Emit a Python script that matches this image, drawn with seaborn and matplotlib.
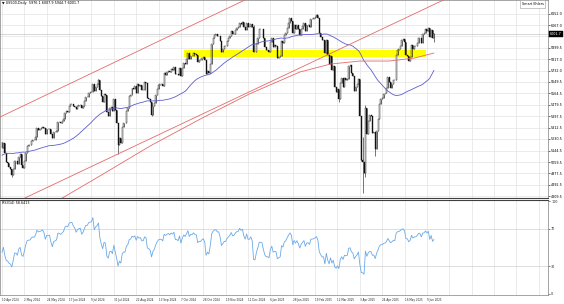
import numpy as np
import pandas as pd
import matplotlib
matplotlib.use("Agg")
import matplotlib.pyplot as plt
import matplotlib.transforms as mtrans
import seaborn as sns

sns.set_style("white")
plt.rcParams['font.family'] = ['DejaVu Sans']

# ---------------- data ----------------
symbol = "US500,Daily"
start_date = "2024-04-10"
missing_days = ["2025-04-18"]

warmup_closes = [4925, 4846, 4906, 4959,
                 4942, 4954, 4995, 4998, 5027,
                 5022, 4953, 5001, 5030, 5006,
                 5008, 4976, 4982, 5088, 5089,
                 5070, 5078, 5070, 5096, 5137,
                 5131, 5079, 5105, 5157, 5124,
                 5118, 5175, 5165, 5150, 5117,
                 5149, 5179, 5225, 5241, 5234,
                 5218, 5204, 5248, 5254, 5254,
                 5243, 5205, 5211, 5147, 5204,
                 5202, 5209]

closes = [5160, 5199, 5123,
          5061, 5051, 5022, 5011, 4967,
          5010, 5071, 5071, 5048, 5100,
          5116, 5036, 5018, 5064, 5128,
          5181, 5187, 5187, 5214, 5223,
          5221, 5247, 5308, 5297, 5303,
          5308, 5321, 5307, 5268, 5305,
          5305, 5306, 5267, 5236, 5278,
          5283, 5291, 5354, 5353, 5347,
          5361, 5375, 5421, 5434, 5431,
          5473, 5487, 5487, 5473, 5465,
          5448, 5469, 5478, 5483, 5460,
          5475, 5509, 5537, 5537, 5567,
          5572, 5577, 5633, 5584, 5615,
          5631, 5667, 5588, 5545, 5505,
          5564, 5556, 5427, 5399, 5459,
          5464, 5436, 5522, 5446, 5347,
          5186, 5240, 5199, 5319, 5344,
          5344, 5434, 5455, 5543, 5554,
          5608, 5597, 5621, 5571, 5635,
          5617, 5626, 5592, 5592, 5648,
          5640, 5528, 5520, 5503, 5408,
          5471, 5496, 5554, 5596, 5626,
          5633, 5634, 5618, 5714, 5703,
          5719, 5732, 5722, 5745, 5738,
          5762, 5709, 5709, 5700, 5751,
          5696, 5751, 5792, 5780, 5815,
          5859, 5815, 5843, 5841, 5865,
          5853, 5851, 5797, 5809, 5808,
          5823, 5832, 5813, 5705, 5729,
          5712, 5782, 5929, 5973, 5996,
          6001, 5984, 5985, 5949, 5871,
          5894, 5917, 5917, 5949, 5969,
          5987, 6021, 5999, 6005, 6032,
          6047, 6050, 6086, 6075, 6090,
          6053, 6034, 6085, 6051, 6051,
          6074, 6050, 5872, 5867, 5931,
          5975, 6040, 6040, 6037, 5971,
          5907, 5882, 5882, 5869, 5942,
          5975, 5909, 5918, 5915, 5827,
          5836, 5843, 5950, 5937, 5997,
          6010, 6049, 6086, 6119, 6101,
          6012, 6067, 6039, 6071, 6041,
          5994, 6038, 6061, 6083, 6026,
          6066, 6068, 6052, 6115, 6115,
          6120, 6129, 6144, 6117, 6013,
          5983, 5955, 5956, 5861, 5955,
          5850, 5779, 5843, 5739, 5770,
          5615, 5572, 5599, 5522, 5639,
          5675, 5615, 5675, 5663, 5668,
          5768, 5777, 5712, 5693, 5581,
          5612, 5633, 5671, 5397, 5074,
          5062, 4982, 5457, 5268, 5363,
          5406, 5397, 5276, 5283,
          5158, 5288, 5376, 5485, 5525,
          5529, 5561, 5569, 5604, 5687,
          5650, 5607, 5631, 5664, 5660,
          5844, 5886, 5892, 5917, 5958,
          5964, 5940, 5845, 5842, 5803,
          5830, 5922, 5889, 5912, 5912,
          5936, 5970, 5971, 5939, 6000,
          6006, 6038, 6022, 6045, 5977,
          6033, 5976.1, 6001.7]

wick_low = {"2024-04-19": 4953, "2024-08-05": 5119, "2024-09-06": 5402,
            "2024-12-19": 5866, "2025-03-13": 5505, "2025-04-04": 5069,
            "2025-04-07": 4835, "2025-04-09": 4948, "2025-04-21": 5101,
            "2025-06-18": 5944.7}
wick_high = {"2024-07-16": 5670, "2024-12-18": 6070, "2025-02-19": 6147,
             "2025-04-07": 5246, "2025-04-09": 5481, "2025-06-18": 6007.9}

# long red moving average
red_ma_dates = ["2024-05-13", "2024-06-07", "2024-07-17", "2024-09-05", "2024-10-25",
                "2024-12-13", "2025-02-03", "2025-03-05", "2025-04-03", "2025-05-05",
                "2025-05-29", "2025-06-18"]
red_ma_vals = [4700, 4788, 4957, 5178, 5377, 5561, 5722, 5781, 5803, 5803, 5825, 5862]

# trend lines (two anchor points each)
upper_trend = [("2024-04-10", 5398), ("2024-09-25", 5988)]
lower_trend = [("2024-08-28", 5202), ("2025-03-26", 5932)]

# yellow zone
zone_dates = ["2024-10-09", "2025-06-10"]
zone_prices = [5835, 5884]

price_ticks = [6152.0, 6067.0, 5984.5, 5899.5, 5817.0, 5732.0, 5649.5, 5564.5, 5479.5,
               5397.5, 5312.5, 5230.5, 5144.5, 5059.5, 4977.5, 4892.5, 4809.5]
hidden_price_labels = [5984.5]
date_labels = ["10 Apr 2024", "2 May 2024", "24 May 2024", "17 Jun 2024", "9 Jul 2024",
               "31 Jul 2024", "22 Aug 2024", "13 Sep 2024", "7 Oct 2024", "28 Oct 2024",
               "19 Nov 2024", "11 Dec 2024", "6 Jan 2025", "28 Jan 2025", "19 Feb 2025",
               "12 Mar 2025", "3 Apr 2025", "24 Apr 2025", "16 May 2025", "9 Jun 2025"]
rsi_ticks = [100, 70, 30, 0]
rsi_levels = [70, 30]

# ---------------- derived ----------------
n = len(closes)
bd = pd.bdate_range(start_date, periods=n + 10)
bd = bd[~bd.isin(pd.to_datetime(missing_days))][:n]
dstr = list(bd.strftime("%Y-%m-%d"))
pos = {d: i for i, d in enumerate(dstr)}
x = np.arange(n)

c = np.array(closes, float)
o = np.concatenate([[warmup_closes[-1]], c[:-1]])
hi = np.maximum(o, c)
lo = np.minimum(o, c)
for d, v in wick_low.items():
    lo[pos[d]] = min(lo[pos[d]], v)
for d, v in wick_high.items():
    hi[pos[d]] = max(hi[pos[d]], v)

s = pd.Series(np.array(warmup_closes + closes, float))
ma50 = s.rolling(50).mean().to_numpy()[len(warmup_closes):]
delta = s.diff()
ag = delta.clip(lower=0).ewm(alpha=1 / 14, adjust=False).mean()
al = (-delta.clip(upper=0)).ewm(alpha=1 / 14, adjust=False).mean()
rsi = (100 - 100 / (1 + ag / al)).to_numpy()[len(warmup_closes):]

# ---------------- figure ----------------
W, H = 564, 304
fig = plt.figure(figsize=(W / 100, H / 100), dpi=100)
fig.patch.set_facecolor("white")


def rect(l, t, r, b):
    return [l / W, 1 - b / H, (r - l) / W, (b - t) / H]


ax = fig.add_axes(rect(0, 0, 548, 198))
ax2 = fig.add_axes(rect(0, 200, 548, 295))

XL = (-1.43, 390.6)
grid_c = "#e3e3e3"
red = "#e46a6a"
fs = 2.4
fsx = 1.95

# yellow zone
zx = np.arange(pos[zone_dates[0]], pos[zone_dates[1]] + 1)
ax.fill_between(zx, zone_prices[0], zone_prices[1], color="#ffff00", lw=0, zorder=1)

# candles
up = c >= o
ax.vlines(x, lo, hi, color="#111111", lw=0.4, zorder=3)
ax.bar(x[up], (c - o)[up], bottom=o[up], width=0.7, color="white",
       edgecolor="#111111", linewidth=0.28, zorder=4)
ax.bar(x[~up], (c - o)[~up], bottom=o[~up], width=0.7, color="#111111",
       edgecolor="#111111", linewidth=0.28, zorder=4)

# moving averages
sns.lineplot(x=x, y=ma50, ax=ax, color="#5c5cd2", lw=0.6, zorder=5)
sns.lineplot(x=[pos[d] for d in red_ma_dates], y=red_ma_vals, ax=ax,
             color=red, lw=0.6, zorder=5)

# trend lines
for tl in (upper_trend, lower_trend):
    (d1, p1), (d2, p2) = tl
    ax.axline((pos[d1], p1), (pos[d2], p2), color=red, lw=0.6, zorder=5)

# bid line
ax.axhline(c[-1], color="#b8b8b8", lw=0.4, zorder=2)

ax.set_xlim(*XL)
ax.set_ylim(4795.0, 6252.3)
grid_x = [16 * k for k in range(25)]
ax.set_xticks(grid_x)
ax.set_yticks(price_ticks)
ax.set_yticklabels(["" if p in hidden_price_labels else f"{p:.1f}" for p in price_ticks])
ax.yaxis.tick_right()
ax.tick_params(axis="y", labelsize=fs, length=1.5, width=0.4, pad=0.8, colors="black")
ax.tick_params(axis="x", length=0, labelbottom=False)
ax.grid(True, color=grid_c, lw=0.5, zorder=0)
ax.set_axisbelow(True)
ax.set_xlabel("")
ax.set_ylabel("")
for sp in ax.spines.values():
    sp.set_color("#808080")
    sp.set_linewidth(0.5)
ax.spines["bottom"].set_color("#404040")
ax.spines["bottom"].set_linewidth(0.8)

# header and widgets
ax.text(0.004, 0.993, f"\u25BC {symbol}  {o[-1]:.1f} {hi[-1]:.1f} {lo[-1]:.1f} {c[-1]:.1f}",
        transform=ax.transAxes, fontsize=fs, va="top", ha="left", color="black")
ax.text(0.992, 0.99, "Smart Ehlers", transform=ax.transAxes, fontsize=fs,
        va="top", ha="right", color="black",
        bbox=dict(fc="white", ec="#9a9a9a", lw=0.4, boxstyle="square,pad=0.5"))
tr = mtrans.blended_transform_factory(ax.transAxes, ax.transData)
ax.text(1.004, c[-1], f"{c[-1]:.1f}", transform=tr, fontsize=fs, va="center",
        ha="left", color="white", clip_on=False,
        bbox=dict(fc="black", ec="black", lw=0.3, boxstyle="square,pad=0.35"))

# RSI panel
sns.lineplot(x=x, y=rsi, ax=ax2, color="#6aaae8", lw=0.6)
ax2.set_xlim(*XL)
ax2.set_ylim(-1.1, 101.1)
ax2.set_yticks(rsi_ticks)
ax2.set_yticklabels([str(t) for t in rsi_ticks])
ax2.yaxis.tick_right()
ax2.tick_params(axis="y", labelsize=fs, length=1.5, width=0.4, pad=0.8)
ax2.set_xticks(grid_x)
ax2.set_xticklabels(date_labels + [""] * (len(grid_x) - len(date_labels)))
for lab in ax2.get_xticklabels():
    lab.set_horizontalalignment("left")
ax2.tick_params(axis="x", labelsize=fsx, length=1.5, width=0.4, pad=0.8)
ax2.grid(False)
for gx in grid_x:
    ax2.axvline(gx, color=grid_c, lw=0.5, zorder=0)
for lv in rsi_levels:
    ax2.axhline(lv, color="#d0d0d0", lw=0.5, zorder=0)
ax2.set_xlabel("")
ax2.set_ylabel("")
for sp in ax2.spines.values():
    sp.set_color("#808080")
    sp.set_linewidth(0.5)
ax2.spines["top"].set_color("#404040")
ax2.spines["top"].set_linewidth(0.8)
ax2.text(0.004, 0.985, f"RSI(14) {rsi[-1]:.4f}", transform=ax2.transAxes,
         fontsize=fs, va="top", ha="left", color="black")

fig.savefig("out.png", dpi=100, facecolor="white")
